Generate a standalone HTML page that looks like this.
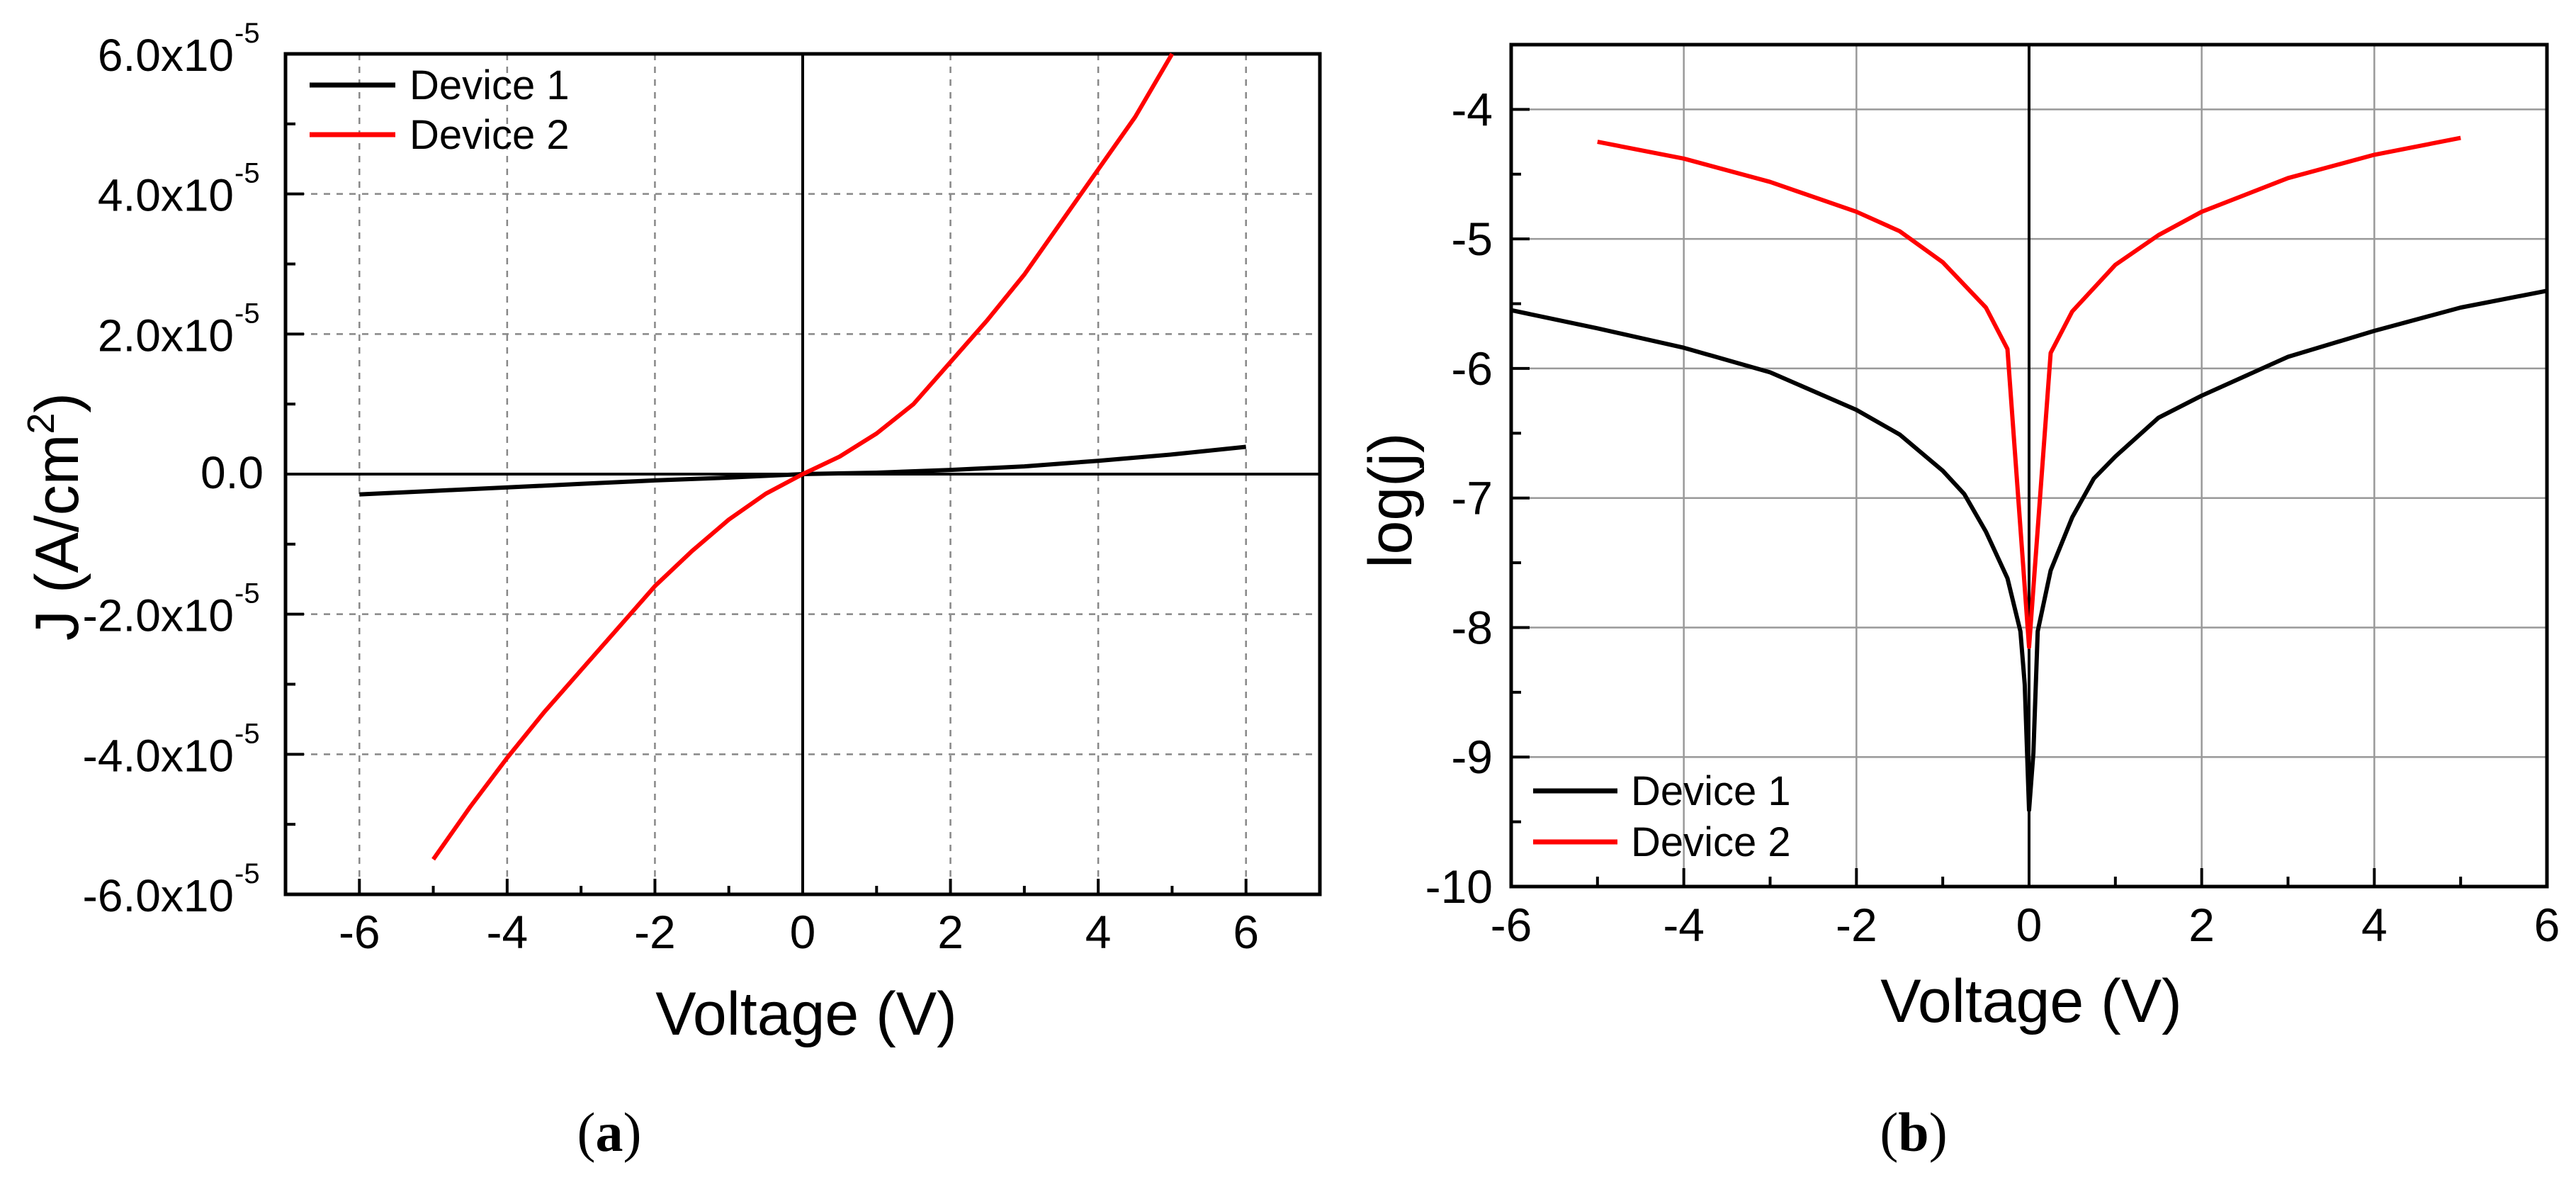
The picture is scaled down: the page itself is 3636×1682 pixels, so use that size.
<!DOCTYPE html>
<html><head><meta charset="utf-8">
<style>
html,body{margin:0;padding:0;background:#fff;}
svg{display:block;font-family:"Liberation Sans",Arial,sans-serif;}
</style></head>
<body>
<svg id="fig" width="3636" height="1682" viewBox="0 0 3636 1682" xmlns="http://www.w3.org/2000/svg">
<rect width="3636" height="1682" fill="#fff"/>
<g id="chartA"></g>
<g id="chartB"></g>
<text x="860" y="1624" font-family="Liberation Serif,serif" font-size="78" text-anchor="middle">(<tspan font-weight="bold">a</tspan>)</text>
<text x="2701" y="1624" font-family="Liberation Serif,serif" font-size="78" text-anchor="middle">(<tspan font-weight="bold">b</tspan>)</text>
</svg>
<script>
// ---- Chart A data ----
const aXTicks = [-6,-4,-2,0,2,4,6];
const aYTicks = [-6,-4,-2,0,2,4,6];
const aYTickLabels = ["-6.0x10","-4.0x10","-2.0x10","0.0","2.0x10","4.0x10","6.0x10"];
const aDev1V = [-6,-5,-4,-3,-2,-1,0,1,2,3,4,5,6];
const aDev1J = [-0.29,-0.24,-0.19,-0.14,-0.09,-0.05,0,0.02,0.06,0.11,0.19,0.28,0.39];
const aDev2V = [-5,-4.5,-4,-3.5,-3,-2.5,-2,-1.5,-1,-0.5,0,0.5,1,1.5,2,2.5,3,3.5,4,4.5,5];
const aDev2J = [-5.5,-4.75,-4.05,-3.4,-2.8,-2.2,-1.6,-1.1,-0.65,-0.28,0,0.25,0.58,1.0,1.6,2.2,2.85,3.6,4.35,5.1,6.0];
// ---- Chart B data ----
const bXTicks = [-6,-4,-2,0,2,4,6];
const bYTicks = [-10,-9,-8,-7,-6,-5,-4];
const bDev1V = [-6,-5,-4,-3,-2,-1.5,-1,-0.75,-0.5,-0.25,-0.1,-0.05,0,0.05,0.1,0.25,0.5,0.75,1,1.5,2,3,4,5,6];
const bDev1L = [-5.55,-5.69,-5.84,-6.03,-6.32,-6.51,-6.79,-6.97,-7.26,-7.62,-8.03,-8.44,-9.41,-8.97,-8.03,-7.56,-7.15,-6.85,-6.68,-6.38,-6.21,-5.91,-5.71,-5.53,-5.4];
const bDev2V = [-5,-4,-3,-2,-1.5,-1,-0.5,-0.25,0,0.25,0.5,1,1.5,2,3,4,5];
const bDev2L = [-4.25,-4.38,-4.56,-4.79,-4.94,-5.18,-5.53,-5.85,-8.15,-5.88,-5.56,-5.2,-4.97,-4.79,-4.53,-4.35,-4.22];

const NS="http://www.w3.org/2000/svg";
function mk(parent,tag,attrs){const e=document.createElementNS(NS,tag);for(const k in attrs)e.setAttribute(k,attrs[k]);parent.appendChild(e);return e;}

// ===== Chart A =====
(function(){
const g=document.getElementById('chartA');
const L=403,R=1863,T=76,B=1262;
const X=v=>L+(v+7)/14*(R-L);
const Y=j=>B-(j+6)/12*(B-T);
aXTicks.forEach(v=>{ if(v!==0){const l=mk(g,'line',{x1:X(v),x2:X(v),y1:T,y2:B,stroke:'#888','stroke-width':2.5,'stroke-dasharray':'9,9'});

}});
aYTicks.forEach(v=>{ if(v!==0&&v!==6&&v!==-6){const l=mk(g,'line',{x1:L,x2:R,y1:Y(v),y2:Y(v),stroke:'#888','stroke-width':2.5,'stroke-dasharray':'9,9'});

}});
const zx=mk(g,'line',{x1:X(0),x2:X(0),y1:T,y2:B,stroke:'#000','stroke-width':4});


const zy=mk(g,'line',{x1:L,x2:R,y1:Y(0),y2:Y(0),stroke:'#000','stroke-width':4});


for(let v=-6;v<=6;v++){const len=(v%2===0)?22:12;const t=mk(g,'line',{x1:X(v),x2:X(v),y1:B,y2:B-len,stroke:'#000','stroke-width':4});

}
for(let v=-5;v<=5;v++){const len=(v%2===0)?26:14;const t=mk(g,'line',{x1:L,x2:L+len,y1:Y(v),y2:Y(v),stroke:'#000','stroke-width':4});

}
const fr=mk(g,'rect',{x:L,y:T,width:R-L,height:B-T,fill:'none',stroke:'#000','stroke-width':5});


aXTicks.forEach(v=>{const t=mk(g,'text',{x:X(v),y:1338,'font-size':66,'text-anchor':'middle'});t.textContent=v;

});
aYTicks.forEach((v,i)=>{const lab=aYTickLabels[i];
if(v===0){const t=mk(g,'text',{x:372,y:Y(v)+20,'font-size':64,'text-anchor':'end'});t.textContent=lab;

}
else{const t=mk(g,'text',{x:330,y:Y(v)+24,'font-size':64,'text-anchor':'end'});t.textContent=lab;


const s=mk(g,'text',{x:331,y:Y(v)-16,'font-size':40,'text-anchor':'start'});s.textContent='-5';

}});
function series(V,J,color,name){const d=V.map((v,i)=>(i?'L':'M')+X(v).toFixed(1)+','+Y(J[i]).toFixed(1)).join('');
const p=mk(g,'path',{d:d,fill:'none',stroke:color,'stroke-width':6,'stroke-linejoin':'round'});

}
series(aDev1V,aDev1J,'#000','device-1-line-a');
series(aDev2V,aDev2J,'#f00','device-2-line-a');
const l1=mk(g,'line',{x1:437,x2:558,y1:120,y2:120,stroke:'#000','stroke-width':7});


const l2=mk(g,'line',{x1:437,x2:558,y1:190,y2:190,stroke:'#f00','stroke-width':7});


const t1=mk(g,'text',{x:578,y:140,'font-size':58});t1.textContent='Device 1';


const t2=mk(g,'text',{x:578,y:210,'font-size':58});t2.textContent='Device 2';


const xt=mk(g,'text',{x:1138,y:1460,'font-size':86,'text-anchor':'middle'});xt.textContent='Voltage (V)';


const yt=mk(g,'text',{x:0,y:0,'font-size':86,'text-anchor':'middle',transform:'translate(110,729) rotate(-90)'});
yt.innerHTML='J (A/cm<tspan font-size="54" dy="-34">2</tspan><tspan dy="34">)</tspan>';


})();

// ===== Chart B =====
(function(){
const g=document.getElementById('chartB');
const L=2133,R=3595,T=63,B=1251;
const X=v=>L+(v+6)/12*(R-L);
const Y=l=>B-(l+10)/6.5*(B-T);
bXTicks.forEach(v=>{ if(v!==0&&Math.abs(v)!==6){const l=mk(g,'line',{x1:X(v),x2:X(v),y1:T,y2:B,stroke:'#999','stroke-width':2.5});

}});
bYTicks.forEach(v=>{ if(v!==-10){const l=mk(g,'line',{x1:L,x2:R,y1:Y(v),y2:Y(v),stroke:'#999','stroke-width':2.5});

}});
const zx=mk(g,'line',{x1:X(0),x2:X(0),y1:T,y2:B,stroke:'#000','stroke-width':4});


for(let v=-5;v<=5;v++){const len=(v%2===0)?26:14;const t=mk(g,'line',{x1:X(v),x2:X(v),y1:B,y2:B-len,stroke:'#000','stroke-width':4});

}
for(let v=-9.5;v<=-3.5;v+=0.5){const len=(Number.isInteger(v))?26:14;const t=mk(g,'line',{x1:L,x2:L+len,y1:Y(v),y2:Y(v),stroke:'#000','stroke-width':4});

}
const fr=mk(g,'rect',{x:L,y:T,width:R-L,height:B-T,fill:'none',stroke:'#000','stroke-width':5});


bXTicks.forEach(v=>{const t=mk(g,'text',{x:X(v),y:1328,'font-size':66,'text-anchor':'middle'});t.textContent=v;

});
bYTicks.forEach(v=>{const t=mk(g,'text',{x:2107,y:Y(v)+23,'font-size':66,'text-anchor':'end'});t.textContent=v;

});
function series(V,Lg,color,name){const d=V.map((v,i)=>(i?'L':'M')+X(v).toFixed(1)+','+Y(Lg[i]).toFixed(1)).join('');
const p=mk(g,'path',{d:d,fill:'none',stroke:color,'stroke-width':6,'stroke-linejoin':'round'});

}
series(bDev1V,bDev1L,'#000','device-1-line-b');
series(bDev2V,bDev2L,'#f00','device-2-line-b');
const l1=mk(g,'line',{x1:2164,x2:2283,y1:1116,y2:1116,stroke:'#000','stroke-width':7});


const l2=mk(g,'line',{x1:2164,x2:2283,y1:1188,y2:1188,stroke:'#f00','stroke-width':7});


const t1=mk(g,'text',{x:2302,y:1136,'font-size':58});t1.textContent='Device 1';


const t2=mk(g,'text',{x:2302,y:1208,'font-size':58});t2.textContent='Device 2';


const xt=mk(g,'text',{x:2867,y:1442,'font-size':86,'text-anchor':'middle'});xt.textContent='Voltage (V)';


const yt=mk(g,'text',{x:0,y:0,'font-size':86,'text-anchor':'middle',transform:'translate(1992,706) rotate(-90)'});
yt.textContent='log(j)';


})();
</script>
</body></html>
